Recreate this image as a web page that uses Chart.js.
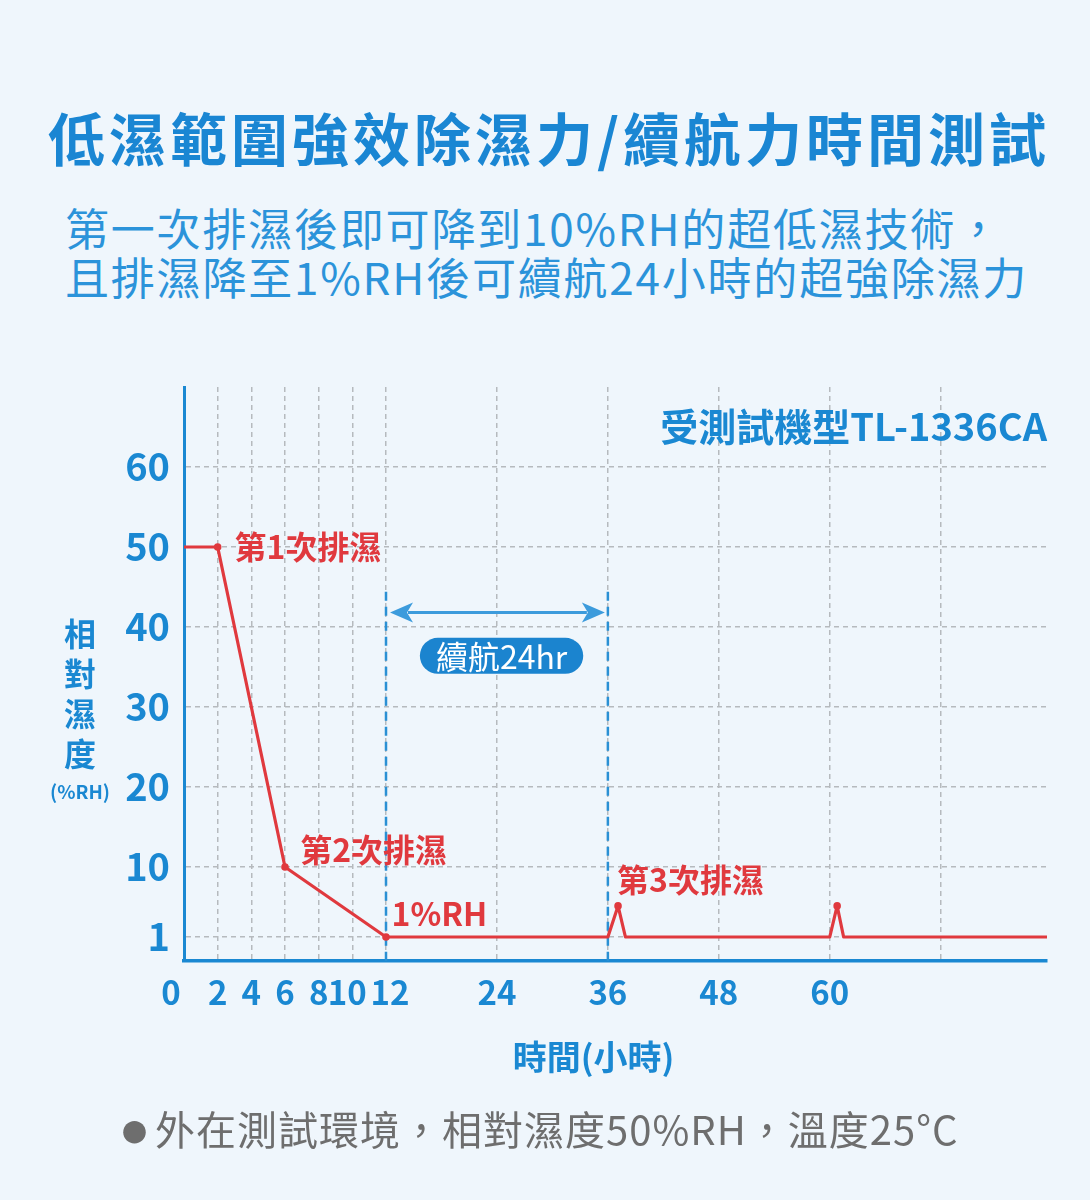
<!DOCTYPE html>
<html lang="zh-Hant">
<head>
<meta charset="utf-8">
<title>低濕範圍強效除濕力/續航力時間測試</title>
<script src="https://cdn.jsdelivr.net/npm/chart.js@4.4.1/dist/chart.umd.min.js"></script>
<style>
  html, body { margin: 0; padding: 0; }
  body {
    width: 1090px; height: 1200px; position: relative; overflow: hidden;
    background: #eff6fc;
    font-family: "Noto Sans CJK TC", "Noto Sans", sans-serif;
  }
  h1 {
    position: absolute; left: 48px; top: 104px; margin: 0;
    font-size: 57px; line-height: 64px; font-weight: 700;
    color: #1a86d3; letter-spacing: 4px; white-space: nowrap;
  }
  .sub {
    position: absolute; left: 65px; top: 203px; margin: 0;
    font-size: 44px; line-height: 49px; font-weight: 400;
    color: #2b93da; letter-spacing: 1.8px; white-space: nowrap;
  }
  .chart-box { position: absolute; left: 0; top: 370px; width: 1090px; height: 730px; }
  .note {
    position: absolute; left: 122px; top: 1104px; margin: 0;
    font-size: 40px; line-height: 48px; color: #6e6e6e;
    letter-spacing: 1px; white-space: nowrap;
  }
  .note .dot { font-size: 25px; margin-right: 8px; vertical-align: 3px; letter-spacing: 0; }
</style>
</head>
<body>
<h1>低濕範圍強效除濕力/續航力時間測試</h1>
<p class="sub">第一次排濕後即可降到10%RH的超低濕技術，<br>且排濕降至1%RH後可續航24小時的超強除濕力</p>
<div class="chart-box"><canvas id="rhChart"></canvas></div>
<p class="note"><span class="dot">●</span>外在測試環境，相對濕度50%RH，溫度25°C</p>

<script>
// ── Data ──
const hours    = [0, 2, 6, 12, 36, 37.1, 37.9, 60, 60.8, 61.5, 83.5];
const humidity = [50, 50, 10, 1, 1, 5, 1, 1, 5, 1, 1];
const marked   = [0, 1, 1, 1, 0, 1, 0, 0, 1, 0, 0];

const xTickValues = [0, 2, 4, 6, 8, 10, 12, 24, 36, 48, 60, 72];
const xTickLabels = ['0', '2', '4', '6', '8', '10', '12', '24', '36', '48', '60', ''];
const yTickValues = [1, 10, 20, 30, 40, 50, 60];

const eventLabels = ['第1次排濕', '第2次排濕', '1%RH', '第3次排濕'];
const eventHours  = [3, 6.9, 12.6, 37];
const eventRH     = [50, 12.1, 4, 8.3];

const rangeHours = [12, 36];
const rangeLabel = '續航24hr';
const modelLabel = '受測試機型TL-1336CA';
const yTitle = ['相', '對', '濕', '度'];
const yUnit  = '(%RH)';
const xTitle = '時間(小時)';

const BLUE = '#1a88d2';
const ARROW = '#3c9bdc';
const RED  = '#e0393e';
const GRID = '#b6babe';
const FONT = '"Noto Sans CJK TC", "Noto Sans", sans-serif';

// ── Linear scale whose length is split into segments of different density ──
class SegmentedScale extends Chart.LinearScale {
  _decimal(value) {
    const stops = this.options.stops, spans = this.options.spans;
    const total = spans.reduce((a, b) => a + b, 0);
    let acc = 0;
    for (let i = 0; i < spans.length; i++) {
      const lo = stops[i], hi = stops[i + 1];
      if (value <= hi || i === spans.length - 1) {
        return (acc + spans[i] * (value - lo) / (hi - lo)) / total;
      }
      acc += spans[i];
    }
    return 0;
  }
  getPixelForValue(value) {
    if (value === null || isNaN(value)) return NaN;
    return this.getPixelForDecimal(this._decimal(value));
  }
  getValueForPixel(pixel) {
    const stops = this.options.stops, spans = this.options.spans;
    const total = spans.reduce((a, b) => a + b, 0);
    const d = this.getDecimalForPixel(pixel) * total;
    let acc = 0;
    for (let i = 0; i < spans.length; i++) {
      if (d <= acc + spans[i] || i === spans.length - 1) {
        return stops[i] + (d - acc) / spans[i] * (stops[i + 1] - stops[i]);
      }
      acc += spans[i];
    }
    return 0;
  }
  // small per-label nudges, e.g. the crowded 0/10/12 labels
  _computeLabelItems(chartArea) {
    const items = super._computeLabelItems(chartArea);
    const shifts = this.options.labelShifts || [];
    items.forEach((item, i) => { if (shifts[i]) item.options.translation[0] += shifts[i]; });
    return items;
  }
}
SegmentedScale.id = 'segmented';
SegmentedScale.defaults = Chart.LinearScale.defaults;
Chart.register(SegmentedScale);

// ── Annotations drawn from the scales ──
function pill(ctx, cx, cy, w, h) {
  const r = h / 2;
  ctx.beginPath();
  ctx.moveTo(cx - w / 2 + r, cy - r);
  ctx.lineTo(cx + w / 2 - r, cy - r);
  ctx.arc(cx + w / 2 - r, cy, r, -Math.PI / 2, Math.PI / 2);
  ctx.lineTo(cx - w / 2 + r, cy + r);
  ctx.arc(cx - w / 2 + r, cy, r, Math.PI / 2, Math.PI * 1.5);
  ctx.closePath();
  ctx.fill();
}
function arrowHead(ctx, tipX, y, dir) {
  ctx.beginPath();
  ctx.moveTo(tipX, y);
  ctx.lineTo(tipX - dir * 23, y - 10);
  ctx.lineTo(tipX - dir * 17, y);
  ctx.lineTo(tipX - dir * 23, y + 10);
  ctx.closePath();
  ctx.fill();
}

const overlay = {
  id: 'overlay',
  beforeDatasetsDraw(chart) {
    const { ctx, scales: { x, y } } = chart;
    ctx.save();
    // range markers
    ctx.strokeStyle = '#2a90d4';
    ctx.lineWidth = 2.5;
    ctx.setLineDash([9, 6]);
    rangeHours.forEach(h => {
      const px = x.getPixelForValue(h);
      ctx.beginPath();
      ctx.moveTo(px, y.getPixelForValue(44.4));
      ctx.lineTo(px, y.getPixelForValue(0));
      ctx.stroke();
    });
    ctx.setLineDash([]);
    // double arrow
    const ay = y.getPixelForValue(41.8);
    const ax1 = x.getPixelForValue(rangeHours[0]) + 4;
    const ax2 = x.getPixelForValue(rangeHours[1]) - 3;
    ctx.strokeStyle = ARROW; ctx.fillStyle = ARROW; ctx.lineWidth = 3;
    ctx.beginPath(); ctx.moveTo(ax1 + 18, ay); ctx.lineTo(ax2 - 18, ay); ctx.stroke();
    arrowHead(ctx, ax1, ay, -1);
    arrowHead(ctx, ax2, ay, 1);
    // label pill
    ctx.font = '32px ' + FONT;
    const cx = x.getPixelForValue(24.5), cy = y.getPixelForValue(36.4);
    const w = ctx.measureText(rangeLabel).width + 32;
    ctx.fillStyle = '#1b84cf';
    pill(ctx, cx, cy, w, 36);
    ctx.fillStyle = '#ffffff';
    ctx.textAlign = 'center'; ctx.textBaseline = 'middle';
    ctx.fillText(rangeLabel, cx, cy + 1);
    ctx.restore();
  },
  afterDatasetsDraw(chart) {
    const { ctx, chartArea, scales: { x, y } } = chart;
    ctx.save();
    ctx.textBaseline = 'middle';
    ctx.textAlign = 'left';
    ctx.fillStyle = RED;
    ctx.font = 'bold 32px ' + FONT;
    eventLabels.forEach((t, i) => ctx.fillText(t, x.getPixelForValue(eventHours[i]), y.getPixelForValue(eventRH[i])));
    ctx.fillStyle = BLUE;
    ctx.textAlign = 'right';
    ctx.font = 'bold 38px ' + FONT;
    ctx.fillText(modelLabel, chartArea.right, y.getPixelForValue(65));
    // axis titles
    ctx.textAlign = 'center';
    ctx.font = 'bold 32px ' + FONT;
    const tx = chartArea.left - 104;
    const base = y.getPixelForValue(20) + 5;
    yTitle.forEach((c, i) => ctx.fillText(c, tx, base - 38 - (yTitle.length - 1 - i) * 40));
    ctx.font = 'bold 19px ' + FONT;
    ctx.fillText(yUnit, tx, base);
    ctx.font = 'bold 34px ' + FONT;
    ctx.fillText(xTitle, (chartArea.left + chartArea.right) / 2 - 22, chartArea.bottom + 96);
    ctx.restore();
  }
};

// ── Chart ──
new Chart(document.getElementById('rhChart').getContext('2d'), {
  type: 'line',
  data: {
    datasets: [{
      data: hours.map((h, i) => ({ x: h, y: humidity[i] })),
      borderColor: RED,
      borderWidth: 3.2,
      borderJoinStyle: 'round',
      tension: 0,
      pointRadius: marked.map(m => (m ? 3.8 : 0)),
      pointBackgroundColor: RED,
      pointBorderWidth: 0,
      clip: false,
    }]
  },
  options: {
    responsive: true,
    maintainAspectRatio: false,
    animation: false,
    events: [],
    layout: { padding: { top: 17, right: 43, bottom: 0, left: 0 } },
    plugins: { legend: { display: false }, tooltip: { enabled: false } },
    scales: {
      x: {
        type: 'segmented',
        stops: [0, 12, 83.5],
        spans: [202, 661],
        labelShifts: [-13, 0, 0, 0, 0, -5, 4],
        min: 0, max: 83.5,
        bounds: 'data',
        afterBuildTicks: s => { s.ticks = xTickValues.map(v => ({ value: v })); },
        afterFit: s => { s.height = 139; s.paddingLeft = 0; s.paddingRight = 0; },
        ticks: {
          autoSkip: false, maxRotation: 0, minRotation: 0, padding: 12,
          color: BLUE, font: { family: FONT, size: 33, weight: 'bold' },
          callback: (v, i) => xTickLabels[i],
        },
        grid: {
          drawTicks: false, lineWidth: 1.5,
          color: c => (c.tick && c.tick.value === 0 ? 'rgba(0,0,0,0)' : GRID),
        },
        border: { color: BLUE, width: 3.5, dash: [5, 4] },
      },
      y: {
        type: 'segmented',
        stops: [0, 1, 10, 70],
        spans: [24, 70, 480],
        min: 0, max: 70,
        bounds: 'data',
        afterBuildTicks: s => { s.ticks = yTickValues.map(v => ({ value: v })); },
        afterFit: s => { s.width = 184; s.paddingTop = 0; s.paddingBottom = 0; },
        ticks: {
          padding: 14,
          color: BLUE, font: { family: FONT, size: 38, weight: 'bold' },
          callback: v => String(v),
        },
        grid: { drawTicks: false, lineWidth: 1.5, color: GRID },
        border: { color: BLUE, width: 3, dash: [5, 4] },
      }
    }
  },
  plugins: [overlay]
});
</script>
</body>
</html>
